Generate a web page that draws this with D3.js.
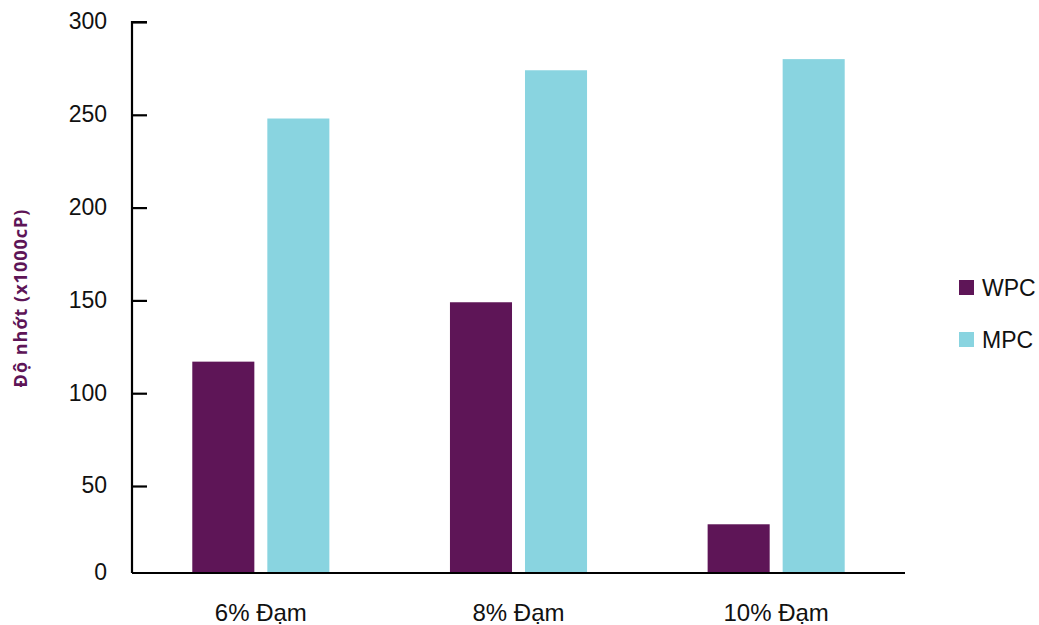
<!DOCTYPE html>
<html>
<head>
<meta charset="utf-8">
<script src="https://cdn.jsdelivr.net/npm/d3@7"></script>
<style>
  html, body { margin: 0; padding: 0; background: #fff; }
  svg { display: block; }
</style>
</head>
<body>
<svg id="chart" width="1039" height="625"></svg>
<script>
// Viscosity by protein level for two protein concentrates
const categories = ["6% Đạm", "8% Đạm", "10% Đạm"];
const seriesNames = ["WPC", "MPC"];
const wpcValues = [117, 149, 28];
const mpcValues = [248, 274, 280];
const yTicks = [0, 50, 100, 150, 200, 250, 300];
const yLabel = "Độ nhớt (x1000cP)";
const colors = { WPC: "#5e1557", MPC: "#89d4e0" };

const svg = d3.select("#chart");
const font = "'Liberation Sans', Arial, Helvetica, sans-serif";

const rows = categories.map((c, i) => ({ cat: c, WPC: wpcValues[i], MPC: mpcValues[i] }));

const plot = { left: 132, right: 905, top: 22, bottom: 573 };

const x0 = d3.scaleBand().domain(categories)
  .range([plot.left, plot.right]).paddingInner(0.468).paddingOuter(0.234);
const x1 = d3.scaleBand().domain(seriesNames)
  .range([0, x0.bandwidth()]).paddingInner(0.173).paddingOuter(0);
const y = d3.scaleLinear().domain([0, 50, 300]).range([plot.bottom, 486, plot.top]);

// bars
const groups = svg.append("g").selectAll("g").data(rows).join("g")
  .attr("transform", d => `translate(${x0(d.cat)},0)`);
groups.selectAll("rect")
  .data(d => seriesNames.map(s => ({ s, v: d[s] })))
  .join("rect")
  .attr("x", d => x1(d.s))
  .attr("width", x1.bandwidth())
  .attr("y", d => y(d.v))
  .attr("height", d => y(0) - y(d.v))
  .attr("fill", d => colors[d.s]);

// y axis with inward ticks
const yAxis = d3.axisRight(y).tickValues(yTicks).tickSize(15).tickFormat(d3.format("d"));
const yg = svg.append("g").attr("transform", `translate(${plot.left},0)`).call(yAxis);
yg.select(".domain").attr("stroke", "#000").attr("stroke-width", 2.2)
  .attr("d", `M15,${plot.top}H0V${plot.bottom}`);
yg.selectAll(".tick line").attr("stroke", "#000").attr("stroke-width", 2.2);
yg.selectAll(".tick").filter(d => d === 0).select("line").remove();
yg.selectAll(".tick text")
  .attr("x", -25).attr("text-anchor", "end").attr("dy", "0.3em")
  .attr("font-family", font).attr("font-size", 23).attr("fill", "#111");

// x axis
const xAxis = d3.axisBottom(x0).tickSize(0).tickPadding(31);
const xg = svg.append("g").attr("transform", `translate(0,${plot.bottom})`).call(xAxis);
xg.select(".domain").attr("stroke", "#000").attr("stroke-width", 2.2)
  .attr("d", `M${plot.left},0H${plot.right}`);
xg.selectAll(".tick text")
  .attr("font-family", font).attr("font-size", 24).attr("fill", "#111");

// y axis title
svg.append("text")
  .attr("transform", `translate(27,298) rotate(-90)`)
  .attr("text-anchor", "middle")
  .attr("font-family", "'Open Sans', sans-serif")
  .attr("font-weight", 700)
  .attr("font-size", 18)
  .attr("letter-spacing", 1)
  .attr("fill", "#5e1557")
  .text(yLabel);

// legend
const legend = svg.append("g").attr("transform", "translate(959,280)");
const li = legend.selectAll("g").data(seriesNames).join("g")
  .attr("transform", (d, i) => `translate(0,${i * 52})`);
li.append("rect").attr("width", 15).attr("height", 15).attr("fill", d => colors[d]);
li.append("text").attr("x", 23).attr("y", 7.5).attr("dy", "0.36em")
  .attr("font-family", font).attr("font-size", 23).attr("fill", "#111")
  .text(d => d);
</script>
</body>
</html>
